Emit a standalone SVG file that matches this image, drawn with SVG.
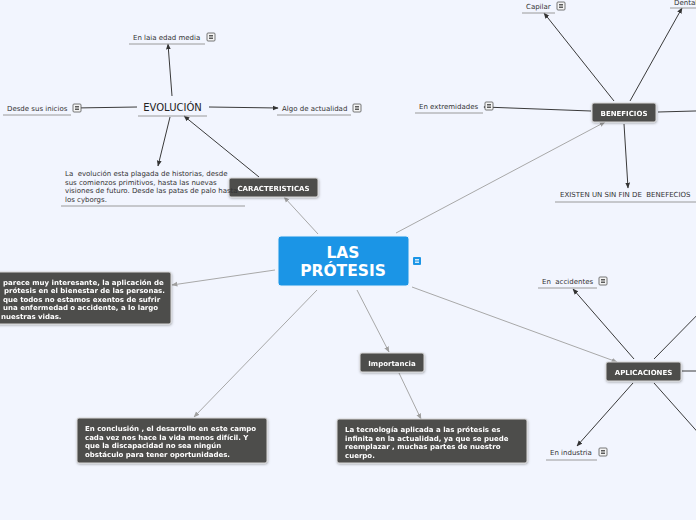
<svg xmlns="http://www.w3.org/2000/svg" width="696" height="520" viewBox="0 0 696 520">
<style>
text{white-space:pre}
.bg{fill:#f2f5fe}
.dk{fill:#4e4d4b;stroke:#d8d8d8;stroke-width:1}
.dt{font-family:"DejaVu Sans",Verdana,sans-serif;font-size:7px;font-weight:bold;fill:#ffffff}
.lt{font-family:"DejaVu Sans",Verdana,sans-serif;font-size:7px;fill:#333333}
.ul{stroke:#9a9a9a;stroke-width:1}
.c1{stroke:#3a3a3a;stroke-width:1;fill:none;marker-end:url(#ad)}
.c0{stroke:#3a3a3a;stroke-width:1;fill:none}
.c2{stroke:#a8a8a8;stroke-width:1;fill:none;marker-end:url(#al)}
.ic{fill:#f4f4f4;stroke:#555;stroke-width:0.8}
.il{stroke:#333;stroke-width:0.8}
</style>
<defs>
<marker id="ad" viewBox="0 0 10 10" refX="9" refY="5" markerWidth="6" markerHeight="6" orient="auto" markerUnits="userSpaceOnUse"><path d="M0,1 L10,5 L0,9 z" fill="#333"/></marker>
<marker id="al" viewBox="0 0 10 10" refX="9" refY="5" markerWidth="6" markerHeight="6" orient="auto" markerUnits="userSpaceOnUse"><path d="M0,1 L10,5 L0,9 z" fill="#a0a0a0"/></marker>
<g id="note"><rect x="0" y="0" width="8" height="8" rx="1" class="ic"/><line x1="2" y1="2.5" x2="6" y2="2.5" class="il"/><line x1="2" y1="4" x2="6" y2="4" class="il"/><line x1="2" y1="5.5" x2="6" y2="5.5" class="il"/></g>
<filter id="sh" x="-10%" y="-10%" width="120%" height="130%"><feDropShadow dx="0.5" dy="1" stdDeviation="0.8" flood-color="#000" flood-opacity="0.3"/></filter>
</defs>
<rect class="bg" width="696" height="520"/>

<g id="connectors">
<line class="c2" x1="318" y1="234" x2="284" y2="197"/>
<line class="c1" x1="259" y1="177" x2="184" y2="116"/>
<line class="c1" x1="172" y1="96" x2="168" y2="44"/>
<line class="c1" x1="137" y1="107" x2="74" y2="108"/>
<line class="c1" x1="209" y1="107" x2="278" y2="108"/>
<line class="c1" x1="170" y1="117" x2="158" y2="166"/>
<line class="c2" x1="396" y1="233" x2="605" y2="122"/>
<line class="c1" x1="614" y1="101" x2="544" y2="13"/>
<line class="c1" x1="630" y1="101" x2="682" y2="8"/>
<line class="c0" x1="658" y1="112" x2="710" y2="110.6"/>
<line class="c1" x1="591" y1="111" x2="484" y2="107"/>
<line class="c1" x1="624" y1="124" x2="628" y2="188"/>
<line class="c2" x1="412" y1="287" x2="617" y2="362"/>
<line class="c1" x1="634" y1="359" x2="573" y2="289"/>
<line class="c0" x1="654" y1="359" x2="710" y2="302"/>
<line class="c0" x1="682" y1="371" x2="710" y2="371"/>
<line class="c0" x1="654" y1="383" x2="710" y2="446"/>
<line class="c1" x1="633" y1="383" x2="577" y2="446"/>
<line class="c2" x1="357" y1="290" x2="389" y2="352"/>
<line class="c2" x1="399" y1="373" x2="421" y2="419"/>
<line class="c2" x1="317" y1="290" x2="194" y2="417"/>
<line class="c2" x1="275" y1="270" x2="172" y2="285"/>
</g>

<g id="center">
<rect x="278" y="236" width="131" height="50" rx="3" fill="#1b95e6" stroke="#e8f2fc" stroke-width="1"/>
<text x="343" y="258" text-anchor="middle" font-family="DejaVu Sans,Verdana,sans-serif" font-size="15.5" font-weight="bold" fill="#fff">LAS</text>
<text x="343" y="276" text-anchor="middle" font-family="DejaVu Sans,Verdana,sans-serif" font-size="15.5" font-weight="bold" fill="#fff">PRÓTESIS</text>
<rect x="413" y="257" width="8" height="8" rx="1" fill="#1b95e6"/>
<line x1="415" y1="259.5" x2="419" y2="259.5" stroke="#fff" stroke-width="0.8"/>
<line x1="415" y1="261" x2="419" y2="261" stroke="#fff" stroke-width="0.8"/>
<line x1="415" y1="262.5" x2="419" y2="262.5" stroke="#fff" stroke-width="0.8"/>
</g>

<g id="caracteristicas" filter="url(#sh)">
<rect x="229" y="178" width="89" height="19" rx="2" class="dk"/>
<text x="273.5" y="190.5" text-anchor="middle" class="dt">CARACTERISTICAS</text>
</g>

<g id="evolucion">
<text x="172.5" y="111" text-anchor="middle" font-family="DejaVu Sans,Verdana,sans-serif" font-size="10" fill="#222">EVOLUCIÓN</text>
<line x1="138" y1="116" x2="207" y2="116" class="ul"/>
</g>

<g id="edadmedia">
<text x="133" y="40" class="lt">En laia edad media</text>
<line x1="129" y1="44" x2="205" y2="44" class="ul"/>
<use href="#note" x="207" y="33"/>
</g>

<g id="inicios">
<text x="7" y="111" class="lt">Desde sus inicios</text>
<line x1="3" y1="115" x2="71" y2="115" class="ul"/>
<use href="#note" x="73" y="104"/>
</g>

<g id="actualidad">
<text x="282" y="111" class="lt">Algo de actualidad</text>
<line x1="277" y1="115" x2="351" y2="115" class="ul"/>
<use href="#note" x="353" y="104"/>
</g>

<g id="parrafo">
<text class="lt"><tspan x="65" y="176">La  evolución esta plagada de historias, desde</tspan><tspan x="65" y="185">sus comienzos primitivos, hasta las nuevas</tspan><tspan x="65" y="193">visiones de futuro. Desde las patas de palo hasta</tspan><tspan x="65" y="202">los cyborgs.</tspan></text>
<line x1="61" y1="206" x2="245" y2="206" class="ul"/>
</g>

<g id="beneficios" filter="url(#sh)">
<rect x="592" y="103" width="64" height="19" rx="2" class="dk"/>
<text x="624" y="115.5" text-anchor="middle" class="dt">BENEFICIOS</text>
</g>

<g id="capilar">
<text x="526" y="9" class="lt">Capilar</text>
<line x1="522" y1="13" x2="555" y2="13" class="ul"/>
<use href="#note" x="557" y="2"/>
</g>

<g id="dental">
<text x="674" y="5" class="lt">Dental</text>
<line x1="670" y1="8" x2="696" y2="8" class="ul"/>
</g>

<g id="extremidades">
<text x="419" y="109" class="lt">En extremidades</text>
<line x1="415" y1="113" x2="483" y2="113" class="ul"/>
<use href="#note" x="485" y="102"/>
</g>

<g id="existen">
<text x="560" y="197" class="lt">EXISTEN UN SIN FIN DE  BENEFECIOS</text>
<line x1="555" y1="202" x2="696" y2="202" class="ul"/>
</g>

<g id="aplicaciones" filter="url(#sh)">
<rect x="606" y="362" width="75" height="19" rx="2" class="dk"/>
<text x="643.5" y="374.5" text-anchor="middle" class="dt">APLICACIONES</text>
</g>

<g id="accidentes">
<text x="542" y="284" class="lt">En  accidentes</text>
<line x1="538" y1="288" x2="597" y2="288" class="ul"/>
<use href="#note" x="599" y="277"/>
</g>

<g id="industria">
<text x="550" y="455" class="lt">En industria</text>
<line x1="546" y1="460" x2="597" y2="460" class="ul"/>
<use href="#note" x="599" y="448"/>
</g>

<g id="importancia" filter="url(#sh)">
<rect x="360" y="353" width="64" height="19" rx="2" class="dk"/>
<text x="392" y="365.5" text-anchor="middle" class="dt">Importancia</text>
</g>

<g id="tecnologia" filter="url(#sh)">
<rect x="337" y="419" width="190" height="44" rx="2" class="dk"/>
<text class="dt"><tspan x="345" y="432">La tecnología aplicada a las prótesis es</tspan><tspan x="345" y="441">infinita en la actualidad, ya que se puede</tspan><tspan x="345" y="449">reemplazar , muchas partes de nuestro</tspan><tspan x="345" y="458">cuerpo.</tspan></text>
</g>

<g id="conclusion" filter="url(#sh)">
<rect x="77" y="418" width="190" height="45" rx="2" class="dk"/>
<text class="dt"><tspan x="85" y="431">En conclusión , el desarrollo en este campo</tspan><tspan x="85" y="440">cada vez nos hace la vida menos difícil. Y</tspan><tspan x="85" y="448">que la discapacidad no sea ningún</tspan><tspan x="85" y="457">obstáculo para tener oportunidades.</tspan></text>
</g>

<g id="opinion" filter="url(#sh)">
<rect x="-10" y="272" width="181" height="52" rx="2" class="dk"/>
<text class="dt"><tspan x="3" y="285">parece muy interesante, la aplicación de</tspan><tspan x="4" y="293">prótesis en el bienestar de las personas.</tspan><tspan x="3" y="302">que todos no estamos exentos de sufrir</tspan><tspan x="3" y="310">una enfermedad o accidente, a lo largo</tspan><tspan x="1" y="319">nuestras vidas.</tspan></text>
</g>
</svg>
